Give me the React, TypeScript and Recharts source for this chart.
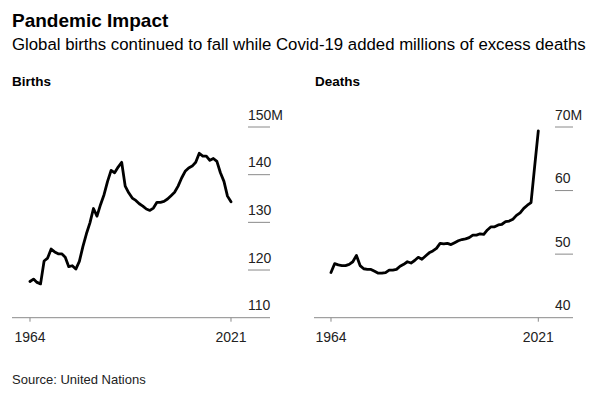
import React from 'react';
import { Line, LineChart, XAxis, YAxis } from 'recharts';

// years 1964..2021, one value per year (millions)
const years = [
  1964, 1965, 1966, 1967, 1968, 1969, 1970, 1971, 1972, 1973, 1974, 1975, 1976, 1977, 1978, 1979, 1980, 1981, 1982,
  1983, 1984, 1985, 1986, 1987, 1988, 1989, 1990, 1991, 1992, 1993, 1994, 1995, 1996, 1997, 1998, 1999, 2000, 2001,
  2002, 2003, 2004, 2005, 2006, 2007, 2008, 2009, 2010, 2011, 2012, 2013, 2014, 2015, 2016, 2017, 2018, 2019, 2020,
  2021,
];

const births = [
  117.6, 118.1, 117.4, 117.1, 121.9, 122.5, 124.4, 123.8, 123.4, 123.4, 122.7, 120.7, 120.9, 120.2, 121.8, 124.9,
  127.6, 129.9, 132.9, 131.3, 133.7, 135.8, 138.6, 140.9, 140.4, 141.6, 142.6, 137.6, 136.2, 135.1, 134.6, 133.9,
  133.4, 132.8, 132.5, 133.0, 134.2, 134.2, 134.4, 134.9, 135.6, 136.3, 137.6, 139.3, 140.7, 141.4, 141.8, 142.6,
  144.5, 143.9, 143.9, 143.0, 143.4, 142.8, 140.4, 138.6, 135.5, 134.3,
];

const deaths = [
  47.1, 48.5, 48.3, 48.2, 48.2, 48.4, 48.8, 49.8, 48.2, 47.7, 47.6, 47.6, 47.3, 47.0, 47.0, 47.1, 47.5, 47.5, 47.6,
  48.1, 48.4, 48.8, 48.6, 49.0, 49.5, 49.2, 49.7, 50.2, 50.5, 50.9, 51.7, 51.6, 51.7, 51.5, 51.8, 52.1, 52.3, 52.4,
  52.6, 53.0, 53.0, 53.2, 53.1, 53.8, 54.3, 54.3, 54.6, 54.7, 55.1, 55.2, 55.5, 56.1, 56.5, 57.2, 57.7, 58.1, 63.8,
  69.4,
];

const xTicks = [1964, 2021];
const birthTicks = [110, 120, 130, 140, 150];
const deathTicks = [40, 50, 60, 70];

const font = '"Liberation Sans", Arial, sans-serif';

const birthRows = years.map((year, i) => ({ year, value: births[i] }));
const deathRows = years.map((year, i) => ({ year, value: deaths[i] }));

type PanelProps = {
  rows: { year: number; value: number }[];
  left: number;
  width: number;
  marginLeft: number;
  plotRight: number;
  xDomain: [number, number];
  yDomain: [number, number];
  yTicks: number[];
  tickLen: number;
};

const CHART_H = 260;
const MARGIN_TOP = 27;
const PLOT_BOTTOM = 217.7;
const Y_AXIS_W = 20;

function Panel({ rows, left, width, marginLeft, plotRight, xDomain, yDomain, yTicks, tickLen }: PanelProps) {
  const top = yDomain[1];

  const yTick = ({ y, payload }: any) => {
    const v = payload.value;
    return (
      <g>
        {v !== yDomain[0] && (
          <line x1={plotRight - tickLen} x2={plotRight} y1={y} y2={y} stroke="#8a8a8a" strokeWidth={1} />
        )}
        <text x={plotRight - tickLen} y={y - 7.5} fontSize={14} fill="#222" fontFamily={font}>
          {v === top ? `${v}M` : v}
        </text>
      </g>
    );
  };

  const xTick = ({ x, payload }: any) => (
    <text x={x} y={PLOT_BOTTOM + 24} textAnchor="middle" fontSize={14} fill="#222" fontFamily={font}>
      {payload.value}
    </text>
  );

  return (
    <div style={{ position: 'absolute', left, top: 100 }}>
      <LineChart
        width={width}
        height={CHART_H}
        data={rows}
        margin={{ top: MARGIN_TOP, right: width - plotRight - Y_AXIS_W, left: marginLeft, bottom: 12.3 }}
      >
        <XAxis
          dataKey="year"
          type="number"
          domain={xDomain}
          allowDataOverflow
          ticks={xTicks}
          interval={0}
          height={30}
          axisLine={{ stroke: '#8a8a8a', strokeWidth: 1 }}
          tickLine={{ stroke: '#8a8a8a', strokeWidth: 1 }}
          tickSize={4}
          tick={xTick}
        />
        <YAxis
          orientation="right"
          type="number"
          domain={yDomain}
          ticks={yTicks}
          interval={0}
          width={Y_AXIS_W}
          axisLine={false}
          tickLine={false}
          tick={yTick}
        />
        <Line
          dataKey="value"
          type="linear"
          stroke="#000"
          strokeWidth={2.8}
          strokeLinejoin="round"
          strokeLinecap="round"
          dot={false}
          isAnimationActive={false}
        />
      </LineChart>
    </div>
  );
}

export default function App() {
  return (
    <div
      style={{
        position: 'absolute',
        left: 0,
        top: 0,
        width: 600,
        height: 394,
        background: '#fff',
        fontFamily: font,
        color: '#000',
        overflow: 'hidden',
      }}
    >
      <div style={{ position: 'absolute', left: 12, top: 11, fontSize: 19, fontWeight: 700, lineHeight: '19px' }}>
        Pandemic Impact
      </div>
      <div style={{ position: 'absolute', left: 12, top: 37, fontSize: 16.8, lineHeight: '16.8px', whiteSpace: 'nowrap' }}>
        Global births continued to fall while Covid-19 added millions of excess deaths
      </div>
      <div style={{ position: 'absolute', left: 12, top: 75, fontSize: 13.5, fontWeight: 700, lineHeight: '13.5px' }}>
        Births
      </div>
      <div style={{ position: 'absolute', left: 315, top: 75, fontSize: 13.5, fontWeight: 700, lineHeight: '13.5px' }}>
        Deaths
      </div>

      <Panel
        rows={birthRows}
        left={0}
        width={320}
        marginLeft={12}
        plotRight={270}
        xDomain={[1958.9, 2032.06]}
        yDomain={[110, 150]}
        yTicks={birthTicks}
        tickLen={22}
      />
      <Panel
        rows={deathRows}
        left={300}
        width={300}
        marginLeft={14}
        plotRight={273}
        xDomain={[1959.33, 2030.54]}
        yDomain={[40, 70]}
        yTicks={deathTicks}
        tickLen={18}
      />

      <div style={{ position: 'absolute', left: 12, top: 373, fontSize: 13, lineHeight: '13px', color: '#222' }}>
        Source: United Nations
      </div>
    </div>
  );
}
